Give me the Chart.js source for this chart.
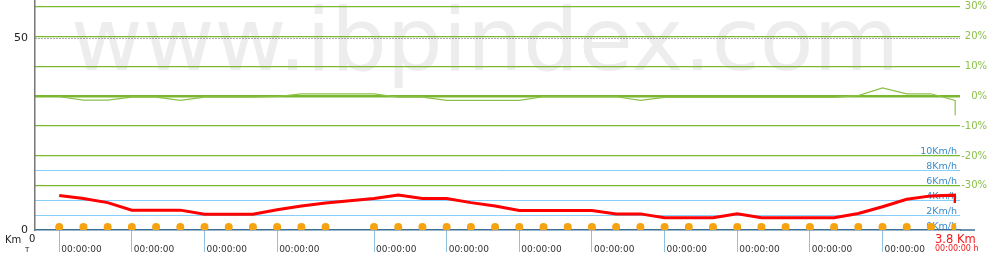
<!DOCTYPE html>
<html>
<head>
<meta charset="utf-8">
<script src="https://cdn.jsdelivr.net/npm/chart.js@4.4.1/dist/chart.umd.min.js"></script>
<style>
  html, body { margin: 0; padding: 0; background: #fff; }
</style>
</head>
<body>
<canvas id="chart" width="990" height="270"></canvas>
<script>
// distance along the track (km), one point per 100 m, last point repeated for the end drop
const distKm = [0.1, 0.2, 0.3, 0.4, 0.5, 0.6, 0.7, 0.8, 0.9, 1.0,
    1.1, 1.2, 1.3, 1.4, 1.5, 1.6, 1.7, 1.8, 1.9, 2.0,
    2.1, 2.2, 2.3, 2.4, 2.5, 2.6, 2.7, 2.8, 2.9, 3.0,
    3.1, 3.2, 3.3, 3.4, 3.5, 3.6, 3.7, 3.8, 3.8];

// speed (Km/h)
const speedKmh = [4.6, 4.2, 3.65, 2.65, 2.65, 2.65, 2.1, 2.1, 2.1, 2.7,
    3.2, 3.6, 3.9, 4.2, 4.65, 4.2, 4.2, 3.65, 3.2, 2.6,
    2.6, 2.6, 2.6, 2.15, 2.15, 1.65, 1.65, 1.65, 2.15, 1.65,
    1.65, 1.65, 1.65, 2.2, 3.1, 4.1, 4.55, 4.65, 3.6];

// slope (%)
const slopePct = [-0.2, -1.3, -1.3, -0.3, -0.3, -1.4, -0.3, -0.3, -0.3, -0.1,
    0.8, 0.8, 0.8, 0.8, -0.3, -0.3, -1.4, -1.4, -1.4, -1.4,
    -0.2, -0.2, -0.2, -0.2, -1.4, -0.4, -0.4, -0.4, -0.4, -0.4,
    -0.4, -0.4, -0.4, 0.2, 2.8, 0.8, 0.8, -1.4, -6.4];

// time markers (orange dots)
const markerKm = [0.1, 0.2, 0.3, 0.4, 0.5, 0.6, 0.7, 0.8, 0.9, 1.0, 1.1, 1.2,
    1.4, 1.5, 1.6, 1.7, 1.8, 1.9, 2.0, 2.1, 2.2, 2.3, 2.4, 2.5, 2.6, 2.7,
    2.8, 2.9, 3.0, 3.1, 3.2, 3.3, 3.4, 3.5, 3.6, 3.7, 3.8];
const markerLevel = 0.4;

// x ticks
const tickKm = [0.1, 0.4, 0.7, 1.0, 1.4, 1.7, 2.0, 2.3, 2.6, 2.9, 3.2, 3.5];
const tickTimes = ['00:00:00', '00:00:00', '00:00:00', '00:00:00', '00:00:00', '00:00:00',
    '00:00:00', '00:00:00', '00:00:00', '00:00:00', '00:00:00', '00:00:00'];

const leftTicks = [0, 50];
const speedTicks = [0, 2, 4, 6, 8, 10];
const pctTicks = [-30, -20, -10, 0, 10, 20, 30];

const totalKm = 3.8;
const totalTime = '00:00:00 h';
const watermark = 'www.ibpindex.com';

const pts = (xs, ys) => xs.map((x, i) => ({ x: x, y: ys[i] }));

// big grey site name behind the plot
const watermarkPlugin = {
    id: 'watermark',
    beforeDraw(chart) {
        const ctx = chart.ctx;
        ctx.save();
        ctx.font = '88px "DejaVu Sans"';
        ctx.fillStyle = '#ededed';
        ctx.textAlign = 'center';
        ctx.textBaseline = 'alphabetic';
        ctx.fillText(watermark, 485, 70);
        ctx.restore();
    }
};

// captions at the bottom corners, x axis line runs a bit past the plot
const captionPlugin = {
    id: 'captions',
    afterDraw(chart) {
        const ctx = chart.ctx;
        const a = chart.chartArea;
        ctx.save();
        ctx.strokeStyle = '#3d6f94';
        ctx.lineWidth = 1.5;
        ctx.beginPath();
        ctx.moveTo(a.right, a.bottom);
        ctx.lineTo(a.right + 15, a.bottom);
        ctx.stroke();

        ctx.textBaseline = 'alphabetic';
        ctx.textAlign = 'left';
        ctx.fillStyle = '#222';
        ctx.font = '10px "DejaVu Sans"';
        ctx.fillText('Km', 5, 243);
        ctx.fillText('0', 29, 242);
        ctx.font = '7px "DejaVu Sans"';
        ctx.fillText('T', 25, 252);

        ctx.fillStyle = '#f21818';
        ctx.font = '11.5px "DejaVu Sans"';
        ctx.fillText(totalKm + ' Km', 935, 243);
        ctx.font = '8px "DejaVu Sans"';
        ctx.fillText(totalTime, 935, 251);
        ctx.restore();
    }
};

const noPad = (scale) => {
    scale.paddingTop = 0;
    scale.paddingBottom = 0;
    scale.paddingLeft = 0;
    scale.paddingRight = 0;
};

new Chart(document.getElementById('chart'), {
    type: 'line',
    data: {
        datasets: [{
                label: 'Speed',
                data: pts(distKm, speedKmh),
                yAxisID: 'yS',
                borderColor: '#ff0000',
                borderWidth: 3,
                pointRadius: 0,
                tension: 0,
                clip: { left: 0, top: 0, right: -4, bottom: 0 }
            },
            {
                label: 'Slope',
                data: pts(distKm, slopePct),
                yAxisID: 'yP',
                borderColor: '#8cc04a',
                borderWidth: 1.2,
                pointRadius: 0,
                tension: 0,
                clip: { left: 0, top: 0, right: -4, bottom: 0 }
            },
            {
                label: 'Time',
                data: markerKm.map(x => ({ x: x, y: markerLevel })),
                yAxisID: 'yS',
                showLine: false,
                pointRadius: 4,
                pointBorderWidth: 0,
                pointBackgroundColor: '#f7a310',
                clip: { left: 0, top: 0, right: -4, bottom: 0 }
            }
        ]
    },
    options: {
        responsive: false,
        animation: false,
        layout: {
            autoPadding: false,
            padding: { left: 0, top: 0, right: 3, bottom: 0 }
        },
        plugins: {
            legend: { display: false },
            tooltip: { enabled: false }
        },
        scales: {
            x: {
                type: 'linear',
                position: 'bottom',
                min: 0,
                max: 3.82,
                afterBuildTicks: (scale) => { scale.ticks = tickKm.map(v => ({ value: v })); },
                afterFit: (scale) => { scale.height = 40; noPad(scale); },
                ticks: {
                    autoSkip: false,
                    maxRotation: 0,
                    minRotation: 0,
                    align: 'start',
                    labelOffset: 2,
                    padding: -8,
                    color: '#333',
                    font: { family: 'DejaVu Sans', size: 9 },
                    callback: (v, i) => tickTimes[i]
                },
                grid: {
                    drawOnChartArea: false,
                    drawTicks: true,
                    tickLength: 22,
                    tickColor: '#8fc0e0',
                    tickWidth: 1,
                    color: '#8fc0e0'
                },
                border: { color: '#3d6f94', width: 1.5 }
            },
            yL: {
                type: 'linear',
                position: 'left',
                min: 0,
                max: 60,
                afterBuildTicks: (scale) => { scale.ticks = leftTicks.map(v => ({ value: v })); },
                afterFit: (scale) => { scale.width = 35; noPad(scale); },
                ticks: {
                    padding: 7,
                    color: '#222',
                    font: { family: 'DejaVu Sans', size: 11 }
                },
                grid: {
                    drawTicks: false,
                    lineWidth: 1,
                    color: (c) => (c.tick && c.tick.value === 50) ? '#555' : 'rgba(0,0,0,0)'
                },
                border: { color: '#777', width: 1.5, dash: [1, 2] }
            },
            yS: {
                type: 'linear',
                position: 'right',
                weight: 0,
                min: 0,
                max: 30.67,
                afterBuildTicks: (scale) => { scale.ticks = speedTicks.map(v => ({ value: v })); },
                afterFit: (scale) => { scale.width = 0; noPad(scale); },
                ticks: {
                    mirror: true,
                    padding: -3,
                    labelOffset: -3,
                    color: '#3a8ccb',
                    font: { family: 'DejaVu Sans', size: 9.5 },
                    callback: (v) => v + 'Km/h'
                },
                grid: {
                    drawTicks: false,
                    lineWidth: 1,
                    color: (c) => (c.tick && (c.tick.value === 0 || c.tick.value === 6)) ? 'rgba(0,0,0,0)' : '#87cefa'
                },
                border: { display: false }
            },
            yP: {
                type: 'linear',
                position: 'right',
                weight: 1,
                min: -44.8,
                max: 32.2,
                afterBuildTicks: (scale) => { scale.ticks = pctTicks.map(v => ({ value: v })); },
                afterFit: (scale) => { scale.width = 27; noPad(scale); },
                ticks: {
                    crossAlign: 'far',
                    padding: 2,
                    color: '#8cc04a',
                    font: { family: 'DejaVu Sans', size: 10 },
                    callback: (v) => v + '%'
                },
                grid: {
                    drawTicks: false,
                    color: '#7cb82f',
                    lineWidth: (c) => (c.tick && c.tick.value === 0) ? 2.5 : 1.2
                },
                border: { display: false }
            }
        }
    },
    plugins: [watermarkPlugin, captionPlugin]
});
</script>
</body>
</html>
